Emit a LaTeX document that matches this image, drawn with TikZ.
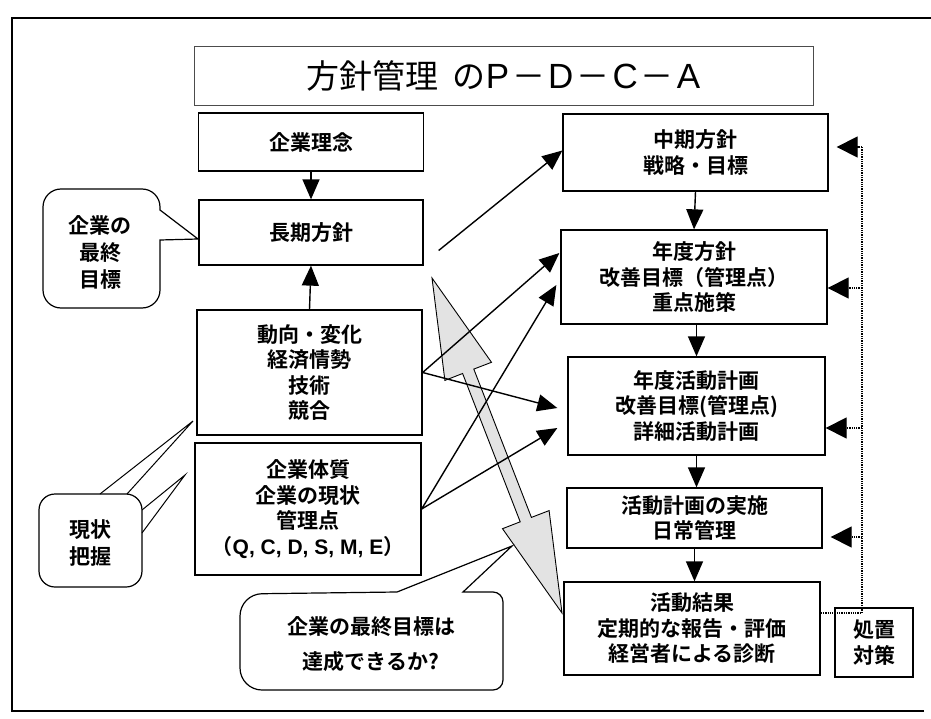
\documentclass[tikz,border=0pt]{standalone}
\usepackage{fontspec}
\setmainfont{Noto Sans CJK JP}[BoldFont={Noto Sans CJK JP Bold}]
\newfontfamily\lat{Liberation Sans}
\newcommand{\tl}[1]{{\lat\fontsize{35}{35}\selectfont #1}}
\usetikzlibrary{arrows.meta,calc}
\begin{document}
\begin{tikzpicture}[x=1pt,y=-1pt,
  box/.style={draw, line width=1.3pt, inner sep=0pt, align=center,
    font=\bfseries\fontsize{21}{25.5}\selectfont},
  txt/.style={inner sep=0pt, align=center, font=\bfseries\fontsize{21}{27}\selectfont},
  conn/.style={line width=1.4pt, -{Triangle[length=20pt,width=17pt]}},
  fb/.style={line width=1.3pt, densely dotted, -{Triangle[length=21pt,width=21pt]}},
  dotline/.style={line width=1.3pt, densely dotted},
  callout/.style={draw, line width=1.2pt, fill=white},
  bigarrow/.style={draw, line width=0.9pt, fill=gray!22}]
\useasboundingbox (0,0) rectangle (931,719);
% outer frame
\draw[line width=1.6pt] (924,711) -- (12,711) -- (12,18) -- (931,18);
% title
\node[draw=black!70, line width=0.8pt, minimum width=619pt, minimum height=59pt, inner sep=0pt,
  font=\fontsize{33}{33}\selectfont] (title) at (503.5,75.5)
  {方針管理\hspace{14pt}の\tl{P}\hspace{3pt}－\hspace{3pt}\tl{D}\hspace{3pt}－\hspace{3pt}\tl{C}\hspace{3pt}－\hspace{3pt}\tl{A}};
% left column
\node[box, minimum width=225pt, minimum height=58pt] (rinen) at (311,142) {企業理念};
\node[box, minimum width=224pt, minimum height=65pt] (choki) at (311,232.5) {長期方針};
\node[box, minimum width=225pt, minimum height=125pt] (doko) at (309.5,372.5) {動向・変化\\経済情勢\\技術\\競合};
\node[box, minimum width=226pt, minimum height=132pt] (taishitsu) at (308,509) {企業体質\\企業の現状\\管理点\\（{\lat Q, C, D, S, M, E}）};
% right column
\node[box, minimum width=265pt, minimum height=77pt] (chuki) at (695.5,152.5) {中期方針\\戦略・目標};
\node[box, minimum width=266pt, minimum height=94pt] (nendo) at (694,277) {年度方針\\改善目標（管理点）\\重点施策};
\node[box, minimum width=257pt, minimum height=98pt] (katsudo) at (696.5,406) {年度活動計画\\改善目標(管理点)\\詳細活動計画};
\node[box, minimum width=255pt, minimum height=60pt] (jisshi) at (694.5,518) {活動計画の実施\\日常管理};
\node[box, minimum width=256pt, minimum height=93pt] (kekka) at (692,628.5) {活動結果\\定期的な報告・評価\\経営者による診断};
\node[box, minimum width=78pt, minimum height=69pt] (shochi) at (874,642.5) {処置\\対策};
% big double arrow
\path[bigarrow] (432,278) -- (491.5,362.3) -- (473.8,369.1) -- (531.4,517.4) -- (549.1,510.6)
  -- (562,613) -- (502.5,528.7) -- (520.2,521.8) -- (462.6,373.5) -- (444.9,380.4) -- cycle;
% vertical arrows
\draw[conn] (rinen.south) -- (choki.north);
\draw[conn] (doko.north) -- (choki.south);
\draw[conn] (chuki.south) -- (nendo.north);
\draw[conn] (nendo.south -| katsudo.north) -- (katsudo.north);
\draw[conn] (katsudo.south) -- (katsudo.south |- jisshi.north);
\draw[conn] (jisshi.south) -- (jisshi.south |- kekka.north);
% diagonal arrows
\draw[conn] ($(choki.east)+(15,18)$) -- ($(chuki.west)+(0,-2)$);
\draw[conn] (doko.east) -- ($(nendo.west)+(-1,-24)$);
\draw[conn] (doko.east) -- ($(katsudo.west)+(-10,2)$);
\draw[conn] (taishitsu.east) -- ($(nendo.west)+(-4,8)$);
\draw[conn] (taishitsu.east) -- ($(katsudo.west)+(-10,22)$);
% feedback
\coordinate (fbtop) at (862,147);
\coordinate (fbbot) at (862,613);
\coordinate (fb2) at (862,288);
\coordinate (fb3) at (862,428);
\coordinate (fb4) at (862,537);
\draw[dotline] (kekka.east |- fbbot) -- (fbbot) -- (fbtop);
\draw[fb, shorten >=8pt] (fbtop) -- (chuki.east |- fbtop);
\draw[fb] (fb2) -- (nendo.east |- fb2);
\draw[fb] (fb3) -- (katsudo.east |- fb3);
\draw[fb, shorten >=8pt] (fb4) -- (jisshi.east |- fb4);
% callout: 企業の最終目標
\draw[callout] (43,250) [rounded corners=18] -- (43,189) -- (160,189) [sharp corners] -- (160,210)
  -- (198,239) -- (160,240) [rounded corners=18] -- (160,308) -- (43,308) -- cycle;
\node[txt] (c1) at (100,252) {企業の\\最終\\目標};
% callout: 現状把握
\draw[callout, rounded corners=16] (39,494) rectangle (142,587);
\draw[line width=1pt] (100,494) -- (193,421) -- (127,494);
\draw[line width=1pt] (142,510) -- (185,475) -- (142,533);
\node[txt] (c2) at (90,543.5) {現状\\把握};
% callout: bottom
\draw[callout] (503,640) [rounded corners=10] -- (503,592) [sharp corners] -- (463,592)
  -- (512,546) -- (397,592) [rounded corners=22] -- (240,594) -- (240,690) [rounded corners=10]
  -- (503,690) -- cycle;
\node[txt, font=\bfseries\fontsize{21}{35}\selectfont] (c3) at (371,644) {企業の最終目標は\\達成できるか?};
\end{tikzpicture}
\end{document}
